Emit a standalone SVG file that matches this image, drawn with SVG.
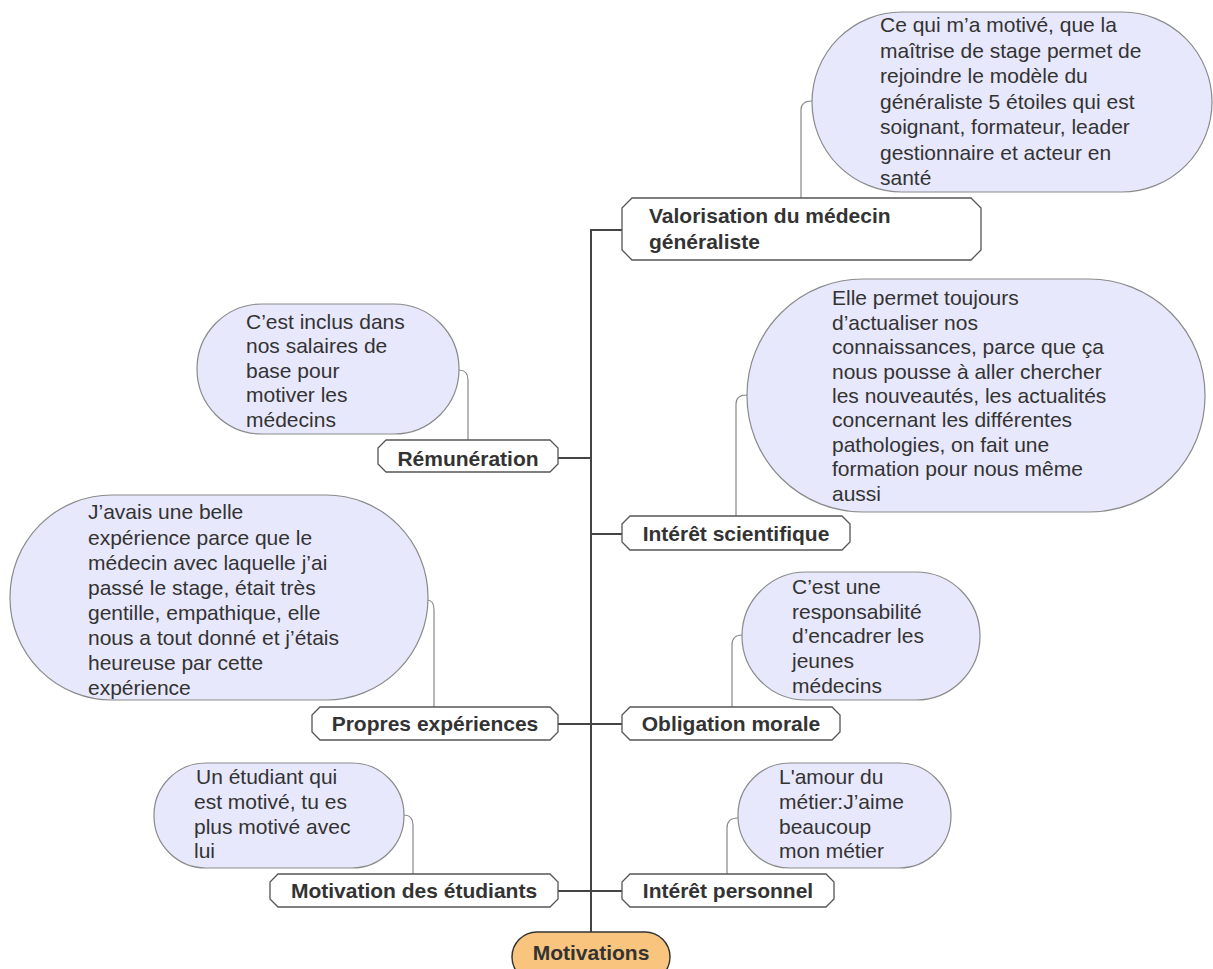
<svg xmlns="http://www.w3.org/2000/svg" width="1213" height="969" viewBox="0 0 1213 969">
<style>
.bub{fill:#e8e8fc;stroke:#8a8a8a;stroke-width:1.2}
.bt{font-family:"Liberation Sans",Arial,sans-serif;font-size:21px;fill:#333}
.node{fill:#fff;stroke:#555;stroke-width:1.3}
.nt{font-family:"Liberation Sans",Arial,sans-serif;font-size:21px;font-weight:bold;fill:#333;text-anchor:middle}
.trunk{fill:none;stroke:#444;stroke-width:2}
.sub{fill:none;stroke:#888;stroke-width:1.2}
</style>
<rect width="1213" height="969" fill="#fff"/>
<g id="connectors">
<path class="trunk" d="M591,932 L591,230 L622,230"/>
<path class="trunk" d="M558,458 L591,458"/>
<path class="trunk" d="M591,534 L622,534"/>
<path class="trunk" d="M558,724 L622,724"/>
<path class="trunk" d="M558,891 L622,891"/>
<path class="sub" d="M801,198 L801,110 Q801,101 812,101"/>
<path class="sub" d="M736,516 L736,404 Q736,395 747,395"/>
<path class="sub" d="M459,370 Q468,370 468,380 L468,440"/>
<path class="sub" d="M427,600 Q434,600 434,610 L434,707"/>
<path class="sub" d="M742,635 Q732,635 732,645 L732,707"/>
<path class="sub" d="M404,815 Q413,815 413,825 L413,874"/>
<path class="sub" d="M738,818 Q727,818 727,828 L727,874"/>
</g>
<g id="root">
<rect x="512" y="932" width="158" height="50" rx="25" fill="#f8c47e" stroke="#333" stroke-width="1.5"/>
<text class="nt" x="591" y="960">Motivations</text>
</g>
<g id="valorisation">
<path class="node" d="M632,198 L971,198 L981,208 L981,250 L971,260 L632,260 L622,250 L622,208 Z"/>
<text class="nt" style="text-anchor:start" x="649" y="223">Valorisation du médecin</text>
<text class="nt" style="text-anchor:start" x="649" y="249">généraliste</text>
</g>
<g id="valorisation-note">
<rect class="bub" x="812" y="12" width="400" height="180" rx="90"/>
<text class="bt" x="880" y="32">Ce qui m’a motivé, que la</text>
<text class="bt" x="880" y="58">maîtrise de stage permet de</text>
<text class="bt" x="880" y="83">rejoindre le modèle du</text>
<text class="bt" x="880" y="109">généraliste 5 étoiles qui est</text>
<text class="bt" x="880" y="134">soignant, formateur, leader</text>
<text class="bt" x="880" y="160">gestionnaire et acteur en</text>
<text class="bt" x="880" y="185">santé</text>
</g>
<g id="remuneration">
<path class="node" d="M386,440 L550,440 L558,448 L558,464 L550,472 L386,472 L378,464 L378,448 Z"/>
<text class="nt" x="468" y="466">Rémunération</text>
</g>
<g id="remuneration-note">
<rect class="bub" x="197" y="304" width="262" height="130" rx="65"/>
<text class="bt" x="246" y="329">C’est inclus dans</text>
<text class="bt" x="246" y="353">nos salaires de</text>
<text class="bt" x="246" y="378">base pour</text>
<text class="bt" x="246" y="402">motiver les</text>
<text class="bt" x="246" y="427">médecins</text>
</g>
<g id="scientifique">
<path class="node" d="M630,516 L842,516 L850,524 L850,542 L842,550 L630,550 L622,542 L622,524 Z"/>
<text class="nt" x="736" y="541">Intérêt scientifique</text>
</g>
<g id="scientifique-note">
<rect class="bub" x="747" y="279" width="458" height="233" rx="116"/>
<text class="bt" x="832" y="305">Elle permet toujours</text>
<text class="bt" x="832" y="330">d’actualiser nos</text>
<text class="bt" x="832" y="354">connaissances, parce que ça</text>
<text class="bt" x="832" y="379">nous pousse à aller chercher</text>
<text class="bt" x="832" y="403">les nouveautés, les actualités</text>
<text class="bt" x="832" y="427">concernant les différentes</text>
<text class="bt" x="832" y="452">pathologies, on fait une</text>
<text class="bt" x="832" y="476">formation pour nous même</text>
<text class="bt" x="832" y="501">aussi</text>
</g>
<g id="propres">
<path class="node" d="M320,707 L550,707 L558,715 L558,732 L550,740 L320,740 L312,732 L312,715 Z"/>
<text class="nt" x="435" y="731">Propres expériences</text>
</g>
<g id="propres-note">
<rect class="bub" x="10" y="495" width="418" height="205" rx="102"/>
<text class="bt" x="88" y="519">J’avais une belle</text>
<text class="bt" x="88" y="545">expérience parce que le</text>
<text class="bt" x="88" y="570">médecin avec laquelle j’ai</text>
<text class="bt" x="88" y="595">passé le stage, était très</text>
<text class="bt" x="88" y="620">gentille, empathique, elle</text>
<text class="bt" x="88" y="645">nous a tout donné et j’étais</text>
<text class="bt" x="88" y="670">heureuse par cette</text>
<text class="bt" x="88" y="695">expérience</text>
</g>
<g id="obligation">
<path class="node" d="M630,707 L832,707 L840,715 L840,732 L832,740 L630,740 L622,732 L622,715 Z"/>
<text class="nt" x="731" y="731">Obligation morale</text>
</g>
<g id="obligation-note">
<rect class="bub" x="742" y="572" width="238" height="128" rx="64"/>
<text class="bt" x="792" y="594">C’est une</text>
<text class="bt" x="792" y="619">responsabilité</text>
<text class="bt" x="792" y="643">d’encadrer les</text>
<text class="bt" x="792" y="668">jeunes</text>
<text class="bt" x="792" y="693">médecins</text>
</g>
<g id="etudiants">
<path class="node" d="M278,874 L550,874 L558,882 L558,899 L550,907 L278,907 L270,899 L270,882 Z"/>
<text class="nt" x="414" y="898">Motivation des étudiants</text>
</g>
<g id="etudiants-note">
<rect class="bub" x="154" y="763" width="250" height="105" rx="52"/>
<text class="bt" x="196" y="784"> Un étudiant qui</text>
<text class="bt" x="194" y="809">est motivé, tu es</text>
<text class="bt" x="194" y="834">plus motivé avec</text>
<text class="bt" x="194" y="858">lui</text>
</g>
<g id="personnel">
<path class="node" d="M630,874 L826,874 L834,882 L834,899 L826,907 L630,907 L622,899 L622,882 Z"/>
<text class="nt" x="728" y="898">Intérêt personnel</text>
</g>
<g id="personnel-note">
<rect class="bub" x="738" y="763" width="213" height="105" rx="52"/>
<text class="bt" x="779" y="784">L'amour du</text>
<text class="bt" x="779" y="809">métier:J’aime</text>
<text class="bt" x="779" y="834">beaucoup</text>
<text class="bt" x="779" y="858">mon métier</text>
</g>
</svg>
